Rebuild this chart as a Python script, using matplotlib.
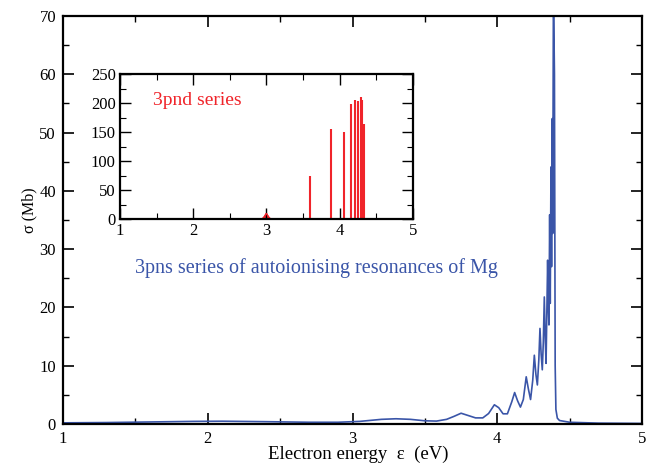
import matplotlib
matplotlib.use("Agg")
import matplotlib.pyplot as plt
from matplotlib.ticker import MultipleLocator

# 3pns series (main panel)
energy = [1.00, 1.30, 1.60, 1.90, 2.10, 2.40, 2.70, 2.90, 3.05, 3.20, 3.30, 3.40,
          3.50, 3.58, 3.65, 3.70, 3.75, 3.80, 3.85, 3.90, 3.94, 3.98, 4.01, 4.04,
          4.07, 4.10, 4.12, 4.14, 4.16, 4.18, 4.20, 4.215, 4.23, 4.245, 4.256,
          4.267, 4.277, 4.287, 4.295, 4.303, 4.311, 4.318, 4.325, 4.331, 4.337,
          4.343, 4.348, 4.353, 4.357, 4.362, 4.366, 4.371, 4.375, 4.380, 4.383,
          4.388, 4.395, 4.400, 4.405, 4.415, 4.43, 4.50, 4.70, 5.00]
sigma = [0.20, 0.25, 0.35, 0.45, 0.48, 0.40, 0.30, 0.30, 0.45, 0.80, 0.90, 0.80,
         0.55, 0.50, 0.80, 1.30, 1.85, 1.45, 1.05, 1.05, 1.80, 3.30, 2.80, 1.75,
         1.75, 3.80, 5.40, 4.00, 2.90, 4.20, 8.10, 6.00, 4.20, 7.50, 11.8,
         8.5, 6.7, 11.0, 16.4, 12.0, 9.3, 14.0, 21.8, 15.0, 10.4,
         20.0, 28.1, 20.0, 17.0, 35.9, 20.7, 44.1, 27.0, 52.4, 32.7,
         75.0, 60.0, 10.0, 2.5, 1.0, 0.6, 0.3, 0.15, 0.10]

# 3pnd series (inset): narrow resonance spikes
spike_energy = [3.60, 3.89, 4.06, 4.155, 4.213, 4.258, 4.29, 4.312, 4.34]
spike_sigma = [74.5, 155, 150, 198, 206, 203.5, 210, 205, 164]
bump_energy = [2.94, 2.97, 3.00, 3.03, 3.06]
bump_sigma = [0, 4, 10, 4, 0]

plt.rcParams["font.family"] = ["Liberation Serif", "DejaVu Serif"]

blue = "#3a55a8"
red = "#f0242a"

fig = plt.figure(figsize=(6.61, 4.68), dpi=100)
ax = fig.add_axes([0.0953, 0.094, 0.876, 0.8718])
ax.plot(energy, sigma, color=blue, lw=1.2)
ax.set_xlim(1, 5)
ax.set_ylim(0, 70)
ax.xaxis.set_major_locator(MultipleLocator(1))
ax.xaxis.set_minor_locator(MultipleLocator(0.5))
ax.yaxis.set_major_locator(MultipleLocator(10))
ax.yaxis.set_minor_locator(MultipleLocator(5))
ax.tick_params(which="both", direction="in", top=True, right=True, labelsize=12, pad=5)
ax.tick_params(which="major", length=8, width=1.2)
ax.tick_params(which="minor", length=4.3, width=1.0)
for s in ax.spines.values():
    s.set_linewidth(1.6)
ax.set_xlabel("Electron energy  \u03b5  (eV)", fontsize=13.5)
ax.xaxis.set_label_coords(0.51, -0.054)
ax.set_ylabel("\u03c3 (Mb)", fontsize=11.5)
ax.yaxis.set_label_coords(-0.044, 0.525)
ax.text(1.497, 26.8, "3pns series of autoionising resonances of Mg",
        color=blue, fontsize=14.5, ha="left", va="center")

ins = fig.add_axes([0.1815, 0.5314, 0.4429, 0.3105])
ins.plot([1, 5], [0, 0], color=red, lw=1.2)
ins.plot(bump_energy, bump_sigma, color=red, lw=1.0)
ins.fill(bump_energy, bump_sigma, color=red)
ins.vlines(spike_energy, 0, spike_sigma, color=red, lw=1.5)
ins.set_xlim(1, 5)
ins.set_ylim(0, 250)
ins.xaxis.set_major_locator(MultipleLocator(1))
ins.xaxis.set_minor_locator(MultipleLocator(0.5))
ins.yaxis.set_major_locator(MultipleLocator(50))
ins.yaxis.set_minor_locator(MultipleLocator(25))
ins.tick_params(which="both", direction="in", top=True, right=True, labelsize=12, pad=3)
ins.tick_params(which="major", length=8, width=1.0)
ins.tick_params(which="minor", length=4.3, width=0.8)
for s in ins.spines.values():
    s.set_linewidth(1.6)
ins.text(1.45, 205, "3pnd series", color=red, fontsize=14, ha="left", va="center")

fig.savefig("out.png", dpi=100)
